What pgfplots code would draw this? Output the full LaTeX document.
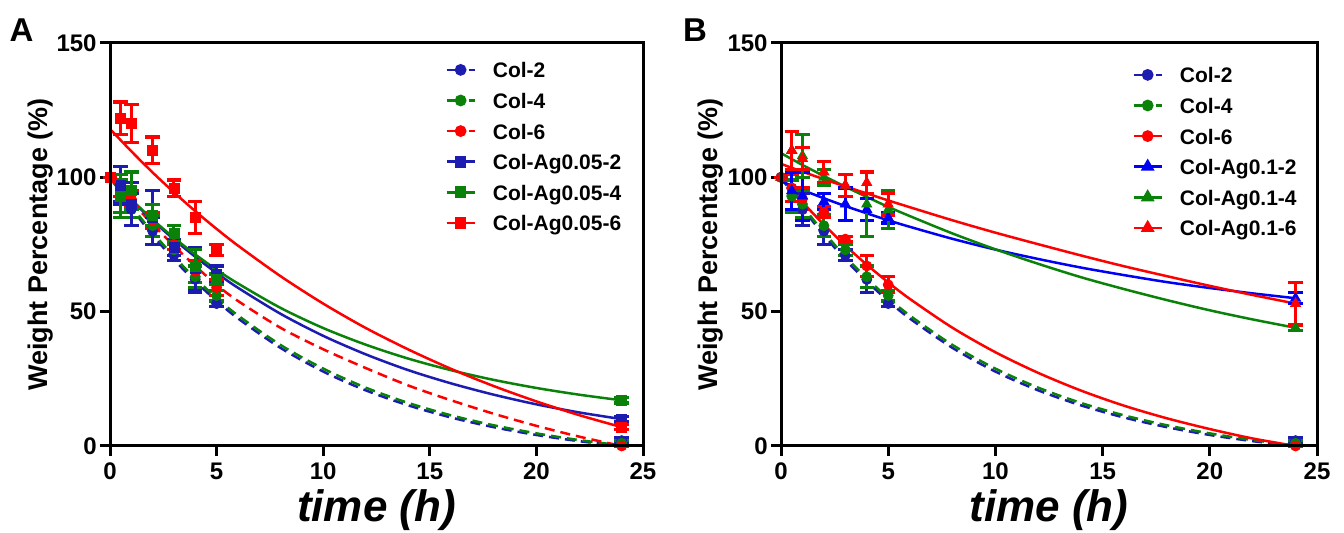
\documentclass[border=0pt]{standalone}
\usepackage{fontspec}
\setmainfont{Liberation Sans}
\usepackage{pgfplots}
\pgfplotsset{compat=1.18}
\definecolor{cblue}{HTML}{1C1CB0}
\definecolor{cbblue}{HTML}{0000F5}
\definecolor{cgreen}{HTML}{0A820A}
\definecolor{cred}{HTML}{FF0000}

\pgfplotsset{
  wp/.style={
    scale only axis, height=201.5pt,
    xmin=0, xmax=25, ymin=0, ymax=150,
    xtick={0,5,10,15,20,25}, ytick={0,50,100,150},
    axis lines=box,
    axis line style={line width=1.5pt},
    tick style={line width=1.5pt, black},
    tick align=outside, major tick length=5pt,
    tick pos=left,
    ticklabel style={font=\fontsize{12}{14}\selectfont\bfseries},
    yticklabel style={inner xsep=1.5pt},
    /pgf/number format/assume math mode=true,
    clip=false,
    xlabel={\fontsize{22}{26}\selectfont\bfseries\itshape time (h)},
    ylabel={\fontsize{13.5}{16}\selectfont\bfseries Weight Percentage (\%)},
    every axis x label/.style={at={(axis description cs:0.5,-0.1588)}, anchor=center},
    every axis y label/.style={at={(axis description cs:-0.131,0.5)}, rotate=90, anchor=center},
    legend style={draw=none, fill=none, inner sep=0pt, row sep=7.3pt,
      font=\fontsize{10.5}{12}\selectfont\bfseries,
      nodes={inner sep=0pt, text height=8pt, text depth=0pt},
      /tikz/every odd column/.style={column sep=8.5pt}},
    legend cell align=left,
    legend image code/.code={\draw[mark repeat=2,mark phase=2,#1] plot coordinates {(0pt,0pt) (7pt,0pt) (14pt,0pt)};},
    extra description/.code={\draw[line width=1.5pt] (rel axis cs:0,0) rectangle (rel axis cs:1,1);},
  },
  fit/.style={no marks, smooth, line width=1.25pt, forget plot},
  dfit/.style={fit, dash pattern=on 5pt off 3pt},
  eb/.style={only marks, mark size=2.5pt, forget plot,
    error bars/y dir=both, error bars/y explicit,
    error bars/error bar style={line width=1.5pt, solid},
    error bars/error mark options={rotate=90, mark size=3.6pt, line width=1.6pt, solid}},
  lg/.style={line width=1.25pt, mark size=2.3pt, mark options={solid}},
  lgd/.style={lg, dash pattern=on 4pt off 1.5pt},
}

\begin{document}
\begin{tikzpicture}
% ---------------- panel A ----------------
\begin{axis}[wp, width=266.5pt, at={(55pt,43.5pt)}, anchor=south west,
  legend style={at={(0.6285,0.9541)}, anchor=north west}]
% fitted curves
\addplot[dfit, cblue] coordinates {(0,100) (1,88.6) (2,78.5) (3,69.4) (4,61.3) (5,54.0) (6,47.5) (8,36.5) (10,27.7) (12,20.7) (14,15.1) (16,10.6) (18,7.0) (20,4.1) (22,1.8) (24,0)};
\addplot[dfit, cgreen] coordinates {(0,100) (1,89.3) (2,79.5) (3,70.5) (4,62.4) (5,55.1) (6,48.6) (8,37.6) (10,28.8) (12,21.7) (14,16.0) (16,11.4) (18,7.7) (20,4.7) (22,2.2) (24,0.2)};
\addplot[dfit, cred] coordinates {(0,100) (1,91) (2,82.5) (3,74.5) (4,67) (5,60) (6,54) (8,44) (10,36) (12,29) (14,22.5) (16,17) (18,12) (20,7.5) (22,3.5) (24,0)};
\addplot[fit, cblue] coordinates {(0,100) (1,91.6) (2,83.9) (3,76.9) (4,70.4) (5,64.4) (6,58.9) (8,49.2) (10,41.0) (12,34.1) (14,28.2) (16,23.3) (18,19.1) (20,15.5) (22,12.5) (24,10.0)};
\addplot[fit, cgreen] coordinates {(0,100) (1,91.8) (2,84.3) (3,77.5) (4,71.3) (5,65.6) (6,60.5) (8,51.4) (10,43.9) (12,37.7) (14,32.5) (16,28.2) (18,24.6) (20,21.6) (22,19.1) (24,17.0)};
\addplot[fit, cred] coordinates {(0,118) (1,109.7) (2,101.8) (3,94.4) (4,87.4) (5,80.8) (6,74.6) (8,63.2) (10,53.0) (12,43.9) (14,35.9) (16,28.7) (18,22.3) (20,16.6) (22,11.5) (24,7.0)};
% measured points
\addplot[eb, cblue, mark=*] coordinates {(0,100) +- (0,0) (0.5,96) +- (0,5) (1,88) +- (0,6) (2,80) +- (0,5) (3,71) +- (0,2) (4,62) +- (0,5) (5,53) +- (0,1) (24,2) +- (0,1)};
\addplot[eb, cgreen, mark=*] coordinates {(0,100) +- (0,0) (0.5,93) +- (0,6) (1,90) +- (0,5) (2,82) +- (0,4) (3,73) +- (0,2) (4,63) +- (0,4) (5,56) +- (0,2) (24,1) +- (0,1)};
\addplot[eb, cred, mark=*] coordinates {(0,100) +- (0,0) (0.5,97) +- (0,4) (1,92) +- (0,3) (2,84) +- (0,3) (3,75) +- (0,2) (4,65) +- (0,4) (5,59) +- (0,3) (24,0) +- (0,0)};
\addplot[eb, cblue, mark=square*] coordinates {(0,100) +- (0,0) (0.5,97) +- (0,7) (1,90) +- (0,8) (2,85) +- (0,10) (3,74) +- (0,3) (4,66) +- (0,8) (5,64) +- (0,3) (24,10) +- (0,1)};
\addplot[eb, cgreen, mark=square*] coordinates {(0,100) +- (0,0) (0.5,93) +- (0,8) (1,95) +- (0,7) (2,86) +- (0,4) (3,79) +- (0,3) (4,67) +- (0,6) (5,62) +- (0,2) (24,17) +- (0,1)};
\addplot[eb, cred, mark=square*] coordinates {(0,100) +- (0,0) (0.5,122) +- (0,6) (1,120) +- (0,7) (2,110) +- (0,5) (3,96) +- (0,3) (4,85) +- (0,6) (5,73) +- (0,2) (24,7) +- (0,1)};
\addlegendimage{lgd, cblue, mark=*}
\addlegendimage{lgd, cgreen, mark=*}
\addlegendimage{lgd, cred, mark=*}
\addlegendimage{lg, cblue, mark=square*}
\addlegendimage{lg, cgreen, mark=square*}
\addlegendimage{lg, cred, mark=square*}
\legend{Col-2, Col-4, Col-6, Col-Ag0.05-2, Col-Ag0.05-4, Col-Ag0.05-6}
\node[font=\fontsize{16.5}{18}\selectfont\bfseries] at (axis description cs:-0.166,1.032) {A};
\end{axis}
% ---------------- panel B ----------------
\begin{axis}[wp, width=268pt, at={(390.5pt,43.5pt)}, anchor=south west,
  every axis y label/.style={at={(axis description cs:-0.1306,0.5)}, rotate=90, anchor=center},
  legend style={at={(0.6549,0.9417)}, anchor=north west}]
\addplot[dfit, cblue] coordinates {(0,100) (1,88.6) (2,78.5) (3,69.4) (4,61.3) (5,54.0) (6,47.5) (8,36.5) (10,27.7) (12,20.7) (14,15.1) (16,10.6) (18,7.0) (20,4.1) (22,1.8) (24,0)};
\addplot[dfit, cgreen] coordinates {(0,100) (1,89.3) (2,79.5) (3,70.5) (4,62.4) (5,55.1) (6,48.6) (8,37.6) (10,28.8) (12,21.7) (14,16.0) (16,11.4) (18,7.7) (20,4.7) (22,2.2) (24,0.2)};
\addplot[fit, cred] coordinates {(0,100) (1,90.8) (2,82.4) (3,74.6) (4,67.5) (5,60.9) (6,54.8) (8,44.0) (10,34.9) (12,27.2) (14,20.6) (16,15.0) (18,10.3) (20,6.3) (22,2.8) (24,0)};
\addplot[fit, cbblue] coordinates {(0,98.5) (1,95.3) (2,92.2) (3,89.3) (4,86.6) (5,84.0) (6,81.6) (8,77.1) (10,73.1) (12,69.6) (14,66.4) (16,63.6) (18,61.0) (20,58.8) (22,56.8) (24,55.0)};
\addplot[fit, cgreen] coordinates {(0,109) (1,104.6) (2,100.5) (3,96.5) (4,92.7) (5,89.0) (6,85.6) (8,79.1) (10,73.2) (12,67.8) (14,62.8) (16,58.4) (18,54.3) (20,50.5) (22,47.1) (24,44.0)};
\addplot[fit, cred] coordinates {(0,105) (1,102.1) (2,99.3) (3,96.6) (4,94.0) (5,91.4) (6,88.9) (8,84.0) (10,79.4) (12,75.1) (14,70.9) (16,66.9) (18,63.2) (20,59.6) (22,56.2) (24,53.0)};
\addplot[eb, cblue, mark=*] coordinates {(0,100) +- (0,0) (0.5,96) +- (0,5) (1,88) +- (0,6) (2,80) +- (0,5) (3,71) +- (0,2) (4,62) +- (0,5) (5,53) +- (0,1) (24,2) +- (0,1)};
\addplot[eb, cgreen, mark=*] coordinates {(0,100) +- (0,0) (0.5,93) +- (0,6) (1,90) +- (0,5) (2,82) +- (0,4) (3,73) +- (0,2) (4,63) +- (0,4) (5,56) +- (0,2) (24,1) +- (0,1)};
\addplot[eb, cred, mark=*] coordinates {(0,100) +- (0,0) (0.5,96) +- (0,5) (1,92) +- (0,4) (2,87) +- (0,2) (3,77) +- (0,1) (4,67) +- (0,4) (5,60) +- (0,3) (24,0) +- (0,0)};
\addplot[eb, cbblue, mark=triangle*, mark size=2.9pt] coordinates {(0,100) +- (0,0) (0.5,95) +- (0,7) (1,93) +- (0,9) (2,91) +- (0,3) (3,90) +- (0,6) (4,88) +- (0,4) (5,85) +- (0,2) (24,55) +- (0,2)};
\addplot[eb, cgreen, mark=triangle*, mark size=2.9pt] coordinates {(0,100) +- (0,0) (0.5,110) +- (0,7) (1,108) +- (0,8) (2,100) +- (0,3) (3,97) +- (0,4) (4,90) +- (0,12) (5,88) +- (0,7) (24,44) +- (0,1)};
\addplot[eb, cred, mark=triangle*, mark size=2.9pt] coordinates {(0,100) +- (0,0) (0.5,110) +- (0,7) (1,107) +- (0,4) (2,102) +- (0,4) (3,97) +- (0,4) (4,98) +- (0,4) (5,90) +- (0,4) (24,53) +- (0,8)};
\addlegendimage{lgd, cblue, mark=*}
\addlegendimage{lgd, cgreen, mark=*}
\addlegendimage{lg, cred, mark=*}
\addlegendimage{lg, cbblue, mark=triangle*, mark size=2.8pt}
\addlegendimage{lg, cgreen, mark=triangle*, mark size=2.8pt}
\addlegendimage{lg, cred, mark=triangle*, mark size=2.8pt}
\legend{Col-2, Col-4, Col-6, Col-Ag0.1-2, Col-Ag0.1-4, Col-Ag0.1-6}
\node[font=\fontsize{16.5}{18}\selectfont\bfseries] at (axis description cs:-0.1604,1.032) {B};
\end{axis}
\pgfresetboundingbox
\path (0pt,0pt) rectangle (672pt,266.5pt);
\end{tikzpicture}
\end{document}
